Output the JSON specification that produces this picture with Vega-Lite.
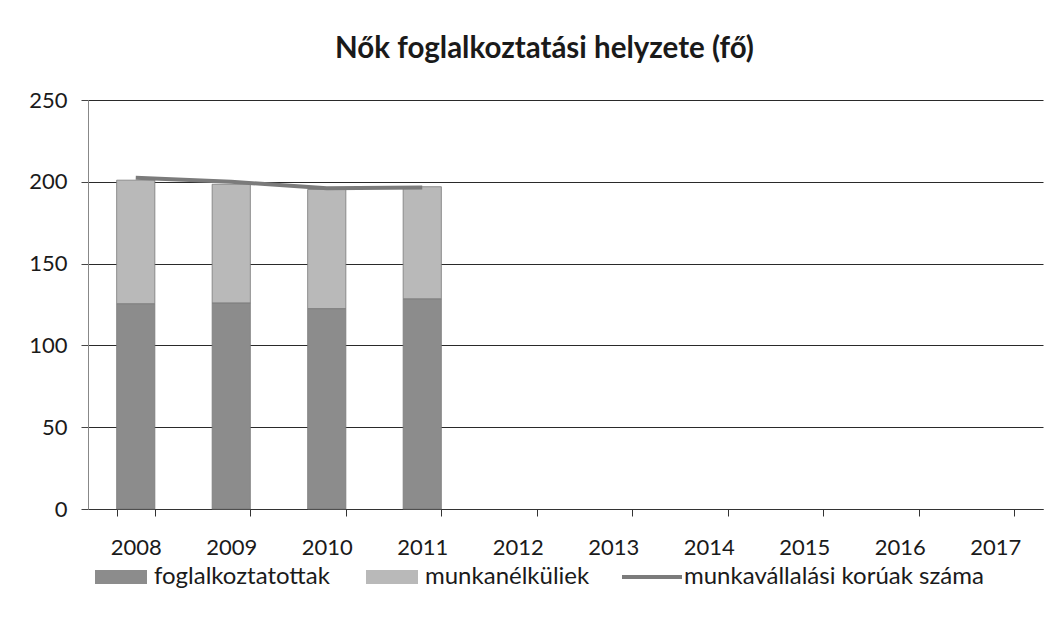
{
  "$schema": "https://vega.github.io/schema/vega-lite/v6.json",
  "width": 955,
  "height": 409,
  "autosize": {"type": "none"},
  "padding": {"left": 88, "top": 100, "right": 21, "bottom": 131},
  "background": "white",
  "title": {
    "text": "Nők foglalkoztatási helyzete (fő)",
    "font": "Lato",
    "fontSize": 29.5,
    "fontWeight": "bold",
    "color": "#1a1a1a",
    "anchor": "middle",
    "dx": -21,
    "offset": 25
  },
  "datasets": {
    "bars": [
      {"year": "2008", "series": "foglalkoztatottak", "order": 1, "value": 125.5},
      {"year": "2008", "series": "munkanélküliek", "order": 2, "value": 75.5},
      {"year": "2009", "series": "foglalkoztatottak", "order": 1, "value": 126},
      {"year": "2009", "series": "munkanélküliek", "order": 2, "value": 72.5},
      {"year": "2010", "series": "foglalkoztatottak", "order": 1, "value": 122.5},
      {"year": "2010", "series": "munkanélküliek", "order": 2, "value": 72.8},
      {"year": "2011", "series": "foglalkoztatottak", "order": 1, "value": 128.5},
      {"year": "2011", "series": "munkanélküliek", "order": 2, "value": 68.5}
    ],
    "line": [
      {"year": "2008", "series": "munkavállalási korúak száma", "value": 202.5},
      {"year": "2009", "series": "munkavállalási korúak száma", "value": 200},
      {"year": "2010", "series": "munkavállalási korúak száma", "value": 196},
      {"year": "2011", "series": "munkavállalási korúak száma", "value": 196.5}
    ]
  },
  "config": {
    "view": {"stroke": null},
    "font": "Lato",
    "axis": {
      "labelFont": "Lato",
      "labelFontSize": 22,
      "labelColor": "#1a1a1a",
      "titleFont": "Lato"
    },
    "legend": {"labelFont": "Lato", "labelFontSize": 24, "labelColor": "#1a1a1a", "labelLimit": 0}
  },
  "encoding": {
    "x": {
      "field": "year",
      "type": "ordinal",
      "scale": {
        "domain": ["2008", "2009", "2010", "2011", "2012", "2013", "2014", "2015", "2016", "2017"],
        "paddingInner": 0.6,
        "paddingOuter": 0.3
      },
      "axis": {
        "title": null,
        "labelAngle": 0,
        "tickBand": "extent",
        "tickSize": 7,
        "tickColor": "#333",
        "domainColor": "#333",
        "labelPadding": 21,
        "grid": false
      }
    }
  },
  "layer": [
    {
      "data": {"name": "bars"},
      "mark": {"type": "bar", "stroke": "#7a7a7a", "strokeWidth": 0.8},
      "encoding": {
        "y": {
          "field": "value",
          "type": "quantitative",
          "stack": "zero",
          "scale": {"domain": [0, 250], "nice": false},
          "axis": {
            "title": null,
            "values": [0, 50, 100, 150, 200, 250],
            "grid": true,
            "gridColor": "#2a2a2a",
            "gridWidth": 1,
            "domainColor": "#888",
            "tickColor": "#444",
            "tickSize": 7,
            "labelPadding": 14
          }
        },
        "fill": {
          "field": "series",
          "type": "nominal",
          "scale": {"domain": ["foglalkoztatottak", "munkanélküliek"], "range": ["#8c8c8c", "#b9b9b9"]},
          "legend": {
            "title": null,
            "orient": "none",
            "direction": "horizontal",
            "legendX": 21,
            "legendY": 465,
            "symbolType": "M-2.6,-0.7H2.6V0.7H-2.6Z",
            "symbolSize": 400,
            "symbolStrokeWidth": 0,
            "columnPadding": 36,
            "labelOffset": 21
          }
        },
        "order": {"field": "order", "type": "quantitative"}
      }
    },
    {
      "data": {"name": "line"},
      "mark": {"type": "line", "strokeWidth": 4},
      "encoding": {
        "y": {"field": "value", "type": "quantitative", "scale": {"domain": [0, 250], "nice": false}},
        "stroke": {
          "field": "series",
          "type": "nominal",
          "scale": {"domain": ["munkavállalási korúak száma"], "range": ["#7b7b7b"]},
          "legend": {
            "title": null,
            "orient": "none",
            "legendX": 552,
            "legendY": 465,
            "symbolType": "M-3,0H3",
            "symbolSize": 400,
            "symbolStrokeWidth": 4,
            "labelOffset": 20
          }
        }
      }
    }
  ]
}
